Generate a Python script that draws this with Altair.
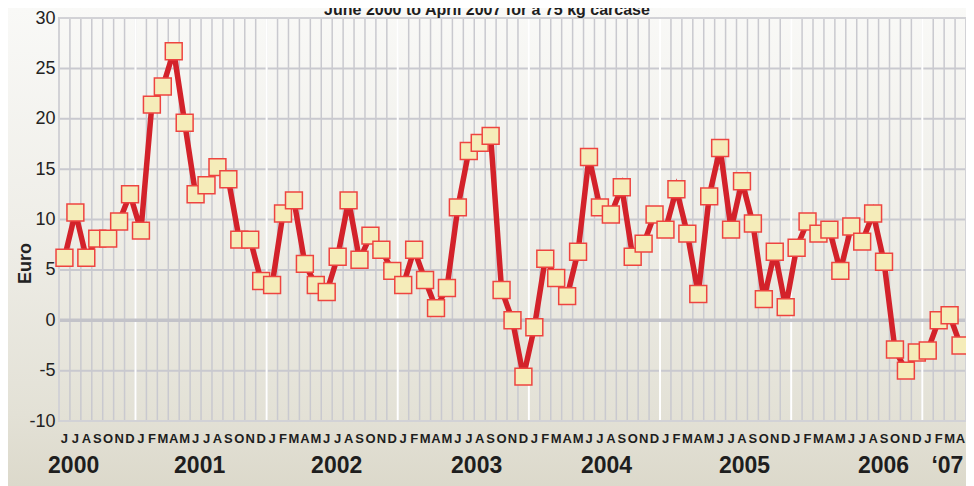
import altair as alt
import pandas as pd

# ---- data ----
month_letters = (["J", "J", "A", "S", "O", "N", "D"]
                 + ["J", "F", "M", "A", "M", "J", "J", "A", "S", "O", "N", "D"] * 6
                 + ["J", "F", "M", "A"])
euro_values = [
    6.2, 10.7, 6.2, 8.1, 8.1, 9.8, 12.5,                      # 2000 Jun-Dec
    8.9, 21.4, 23.2, 26.7, 19.6, 12.5, 13.4, 15.2, 14.0, 8.0, 8.0, 3.9,   # 2001
    3.5, 10.6, 11.9, 5.6, 3.5, 2.8, 6.3, 11.9, 6.0, 8.4, 7.0, 4.9,        # 2002
    3.5, 7.0, 4.0, 1.2, 3.2, 11.2, 16.8, 17.6, 18.3, 3.0, 0.0, -5.6,      # 2003
    -0.7, 6.1, 4.2, 2.4, 6.8, 16.2, 11.2, 10.5, 13.2, 6.3, 7.6, 10.5,     # 2004
    9.0, 13.0, 8.6, 2.6, 12.3, 17.1, 9.0, 13.8, 9.6, 2.1, 6.8, 1.3,       # 2005
    7.2, 9.8, 8.6, 9.0, 4.9, 9.3, 7.8, 10.6, 5.8, -2.9, -5.0, -3.2,       # 2006
    -3.0, 0.0, 0.5, -2.5,                                      # 2007 Jan-Apr
]
year_labels = ["2000", "2001", "2002", "2003", "2004", "2005", "2006", "\u201807"]
year_label_pos = [1.34, 12.87, 25.41, 38.22, 50.1, 62.73, 75.45, 81.3]
year_starts = [7, 19, 31, 43, 55, 67, 79]
y_ticks = [-10, -5, 0, 5, 10, 15, 20, 25, 30]
title_text = "June 2000 to April 2007 for a 75 kg carcase"

W, H = 907, 403
n = len(euro_values)
FONT = "Liberation Sans, Arial, sans-serif"

df = pd.DataFrame({
    "pos": [i + 0.5 for i in range(n)],
    "euro": euro_values,
    "month": month_letters,
})
years_df = pd.DataFrame({"pos": year_label_pos, "label": year_labels})

xs = alt.Scale(domain=[0, n], nice=False, zero=False)
ys = alt.Scale(domain=[-10, 30], nice=False, zero=False)

y_axis = alt.Axis(
    values=y_ticks, grid=False, domain=False, ticks=False, zindex=1,
    labelExpr="datum.value + ''",
    labelFont=FONT, labelFontSize=18, labelColor="#222222", labelPadding=4,
    title="Euro", titleFont=FONT, titleFontSize=18, titleFontWeight="bold",
    titleColor="#222222", titleAngle=270, titleX=-34, titleY=245,
    titleAlign="center", titleBaseline="middle",
)

grad = alt.Gradient(
    gradient="linear",
    stops=[
        alt.GradientStop(color="#f9f9f7", offset=0),
        alt.GradientStop(color="#efeee8", offset=0.45),
        alt.GradientStop(color="#e3e1d6", offset=0.85),
        alt.GradientStop(color="#dcd9cb", offset=1),
    ],
    x1=0, x2=0, y1=0, y2=1,
)

bg = alt.Chart(alt.Data(values=[{}])).mark_rect(fill=grad).encode(
    x=alt.value(-51), x2=alt.value(W + 2), y=alt.value(-10), y2=alt.value(H + 65)
)

vgrid = alt.Chart(pd.DataFrame({"b": list(range(n + 1))})).mark_rule(
    color="#c9c9cf", strokeWidth=1.5
).encode(x=alt.X("b:Q", scale=xs, axis=None))

hgrid = alt.Chart(pd.DataFrame({"euro": y_ticks})).mark_rule(
    color="#c9c9cf", strokeWidth=2
).encode(y=alt.Y("euro:Q", scale=ys, axis=y_axis))

yearlines = alt.Chart(pd.DataFrame({"b": year_starts})).mark_rule(
    color="#ffffff", strokeWidth=2
).encode(x=alt.X("b:Q", scale=xs, axis=None))

zero = alt.Chart(pd.DataFrame({"euro": [0]})).mark_rule(
    color="#c3c3c9", strokeWidth=3.5
).encode(y=alt.Y("euro:Q", scale=ys, axis=y_axis))

border = alt.Chart(alt.Data(values=[{}])).mark_rect(
    fill="transparent", stroke="#d2d2d6", strokeWidth=2
).encode(x=alt.value(0), x2=alt.value(W), y=alt.value(0), y2=alt.value(H))

base = alt.Chart(df).encode(
    x=alt.X("pos:Q", scale=xs, axis=None),
)

line = base.mark_line(color="#d3222a", strokeWidth=5.5).encode(
    y=alt.Y("euro:Q", scale=ys, axis=y_axis)
)

points = base.mark_square(
    size=285, fill="#f5ecb9", stroke="#ee4440", strokeWidth=1.5, opacity=1
).encode(y=alt.Y("euro:Q", scale=ys, axis=y_axis))

months_txt = base.mark_text(
    font=FONT, fontSize=13, fontWeight="bold", color="#1e1e1e", baseline="middle"
).encode(y=alt.value(H + 18), text="month:N")

years_txt = alt.Chart(years_df).mark_text(
    font=FONT, fontSize=23, fontWeight="bold", color="#1e1e1e", baseline="middle"
).encode(x=alt.X("pos:Q", scale=xs, axis=None), y=alt.value(H + 45), text="label:N")

title = alt.Chart(alt.Data(values=[{"t": title_text}])).mark_text(
    font=FONT, fontSize=16, fontWeight="bold", color="#1e1e1e", baseline="alphabetic"
).encode(x=alt.value(428), y=alt.value(-3), text="t:N")

chart = alt.layer(
    bg, vgrid, hgrid, yearlines, zero, border, line, points, months_txt, years_txt, title
).properties(
    width=W, height=H,
    autosize=alt.AutoSizeParams(type="none"),
    padding={"left": 51, "top": 10, "right": 0, "bottom": 65},
).configure_view(stroke=None)

chart.save("out.html", embed_options={"renderer": "svg", "actions": False})
